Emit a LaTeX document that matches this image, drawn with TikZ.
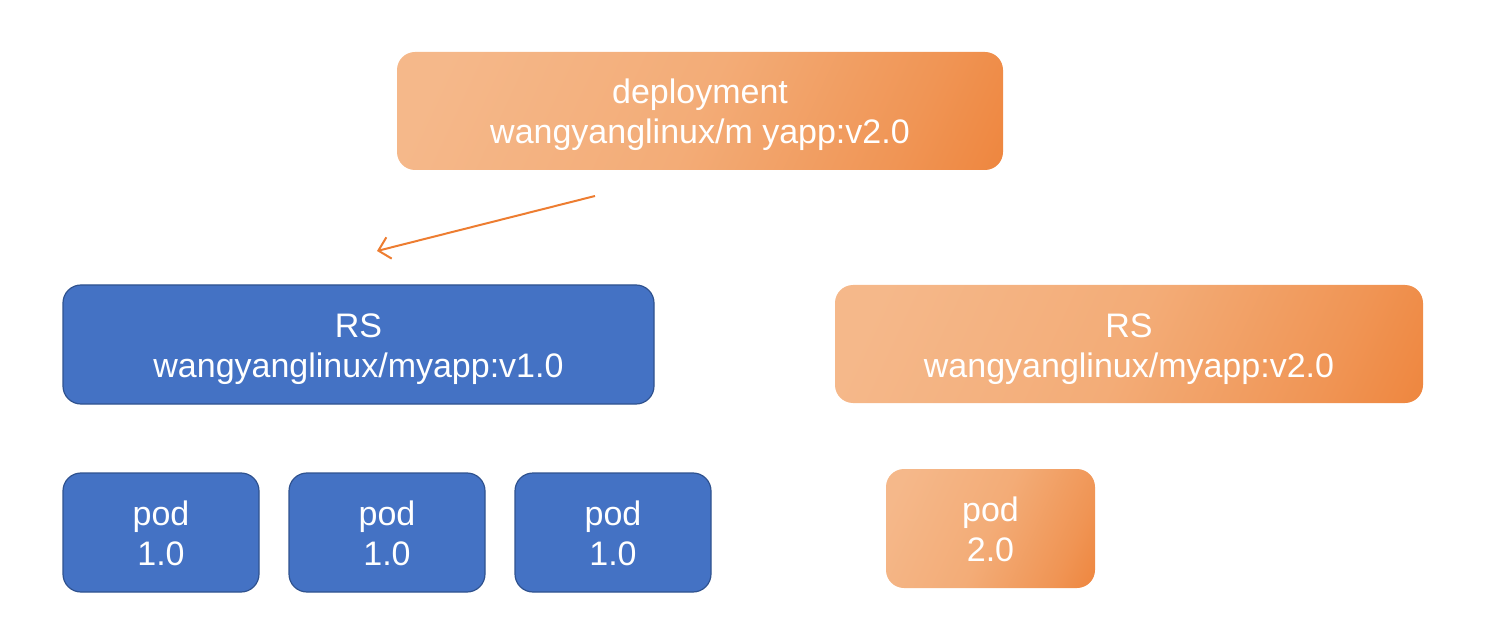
\documentclass[tikz,border=0pt]{standalone}
\usepackage{fontspec}
\setmainfont{Liberation Sans}
\usetikzlibrary{arrows.meta}
\definecolor{oLight}{HTML}{F5B88A}
\definecolor{oMidA}{HTML}{F3AC77}
\definecolor{oMidB}{HTML}{F09555}
\definecolor{oDark}{HTML}{ED7D31}
\definecolor{bFill}{HTML}{4472C4}
\definecolor{bLine}{HTML}{2F528F}
\pgfdeclarehorizontalshading{ograd}{100bp}{color(0bp)=(oLight); color(22bp)=(oLight); color(50bp)=(oMidA); color(72bp)=(oMidB); color(90bp)=(oDark); color(100bp)=(oDark)}
\tikzset{
  lbl/.style={text=white, align=center, font=\fontsize{34}{40}\selectfont, inner sep=0pt, text height=66pt, text depth=0pt},
  obox/.style={lbl, rectangle, rounded corners=18pt, shading=ograd, shading angle=-25},
  bbox/.style={lbl, rectangle, rounded corners=18pt, fill=bFill, draw=bLine, line width=1.2pt},
  conn/.style={draw=oDark, line width=2pt, -{Straight Barb[length=11pt,width=22pt,line width=2pt]}}
}
\begin{document}
\begin{tikzpicture}[x=1pt,y=-1pt]
\useasboundingbox (0,0) rectangle (1500,631);
\node[obox, minimum width=606pt, minimum height=118pt] (dep) at (700,111) {deployment\\wangyanglinux/m yapp:v2.0};
\node[bbox, minimum width=591pt, minimum height=119pt] (rs1) at (358.5,344.5) {RS\\wangyanglinux/myapp:v1.0};
\node[obox, minimum width=588pt, minimum height=118pt] (rs2) at (1129,344) {RS\\wangyanglinux/myapp:v2.0};
\node[bbox, minimum width=196pt, minimum height=119pt] (p1) at (161,532.5) {pod\\1.0};
\node[bbox, minimum width=196pt, minimum height=119pt] (p2) at (387,532.5) {pod\\1.0};
\node[bbox, minimum width=196pt, minimum height=119pt] (p3) at (613,532.5) {pod\\1.0};
\node[obox, minimum width=209pt, minimum height=119pt] (p4) at (990.5,528.5) {pod\\2.0};
\coordinate (aS) at (595,196);
\coordinate (aE) at (377,251);
\draw[conn] (aS) -- (aE);
\end{tikzpicture}
\end{document}
